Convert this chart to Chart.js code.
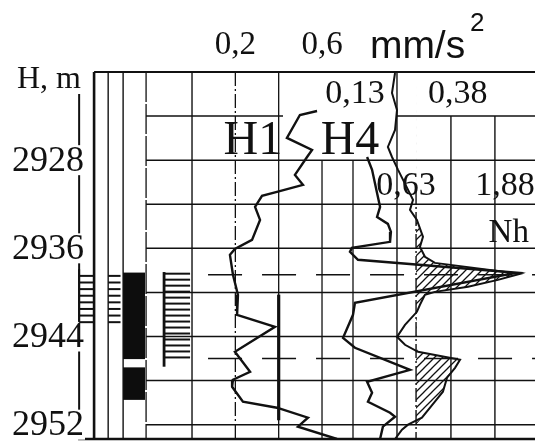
<!DOCTYPE html>
<html><head><meta charset="utf-8">
<script src="https://cdn.jsdelivr.net/npm/chart.js@4.4.1/dist/chart.umd.min.js"></script>
<style>html,body{margin:0;padding:0;background:#fff;}#wrap{position:relative;width:535px;height:441px;}</style>
</head><body><div id="wrap"><canvas id="c"></canvas></div>
<script>
// ---- Data (depth in m, reading in mm/s² on the H1 scale) ----
const h1Depth = [2923.54,2923.90,2925.98,2927.07,2927.71,2929.34,2930.24,2930.88,2931.24,2932.24,2933.42,2935.23,2936.05,2936.59,2938.40,2940.22,2942.03,2943.12,2945.39,2947.20,2947.92,2948.56,2949.92,2950.46,2951.37,2952.18,2953.30];
const h1Value = [0.577,0.498,0.438,0.554,0.531,0.475,0.512,0.392,0.323,0.291,0.314,0.277,0.198,0.175,0.189,0.212,0.208,0.383,0.198,0.268,0.189,0.185,0.235,0.392,0.535,0.489,0.669];
const h4Depth = [2927.71,2928.88,2930.97,2932.24,2933.15,2933.78,2934.51,2935.41,2935.96,2936.32,2937.04,2938.22,2940.94,2942.03,2944.12,2945.02,2947.02,2948.11,2949.10,2949.92,2950.92,2951.28,2952.18,2953.30];
const h4Value = [0.808,0.831,0.854,0.868,0.854,0.904,0.918,0.914,0.738,0.729,0.766,1.500,0.752,0.743,0.697,0.752,1.006,0.808,0.831,0.812,0.914,0.937,0.881,0.868];
const nhDepth = [2920.09,2921.90,2923.45,2925.26,2926.80,2927.71,2928.88,2931.60,2932.51,2933.42,2934.96,2935.87,2936.77,2937.32,2938.31,2938.86,2939.49,2939.95,2940.22,2941.12,2941.76,2942.94,2944.03,2944.75,2945.39,2946.11,2946.84,2947.74,2949.01,2949.92,2951.37,2952.00,2952.46,2953.30];
const nhValue = [0.937,0.923,0.946,0.937,0.904,0.923,0.951,1.020,1.006,1.038,1.066,1.052,1.075,1.121,1.514,1.412,1.274,1.121,1.075,1.052,1.038,0.983,0.946,0.983,1.043,1.237,1.214,1.177,1.158,1.121,1.061,0.997,0.969,0.937];
const nhBase = 1.034;                       // Nh baseline (hatched where Nh exceeds it)
const depthTicks = [2928, 2936, 2944, 2952];
const depthGrid = [2924, 2928, 2932, 2936, 2940, 2944, 2948, 2952];
const markerDepths = [2938.4, 2946.0];      // dashed horizons
const solidTop = [2938.2, 2946.8];           // black lithology column
const solidBottom = [2946.05, 2949.75];
const ladderTop = [2938.5, 2938.5, 2938.3];  // striped lithology columns
const ladderBottom = [2942.7, 2942.7, 2945.9];
const scaleLabels = ['0,2', '0,6'];
const scaleValues = [0.2, 0.6];

// ---- chart ----
const canvas = document.getElementById('c');
const mainCtx = canvas.getContext('2d');
function hatchPattern() {
  const s = 8, c = document.createElement('canvas');
  c.width = s; c.height = s;
  const g = c.getContext('2d');
  g.strokeStyle = '#111'; g.lineWidth = 1.3;
  g.beginPath();
  g.moveTo(-1, s + 1); g.lineTo(s + 1, -1);
  g.moveTo(-s/2 - 1, s/2 + 1); g.lineTo(s/2 + 1, -s/2 - 1);
  g.moveTo(s/2 - 1, 1.5*s + 1); g.lineTo(1.5*s + 1, s/2 - 1);
  g.stroke();
  return mainCtx.createPattern(c, 'repeat');
}
const pts = (d, v) => d.map((y, i) => ({x: v[i], y}));
const SERIF = '"Liberation Serif","Times New Roman",serif';
const SANS = '"Liberation Sans",Arial,sans-serif';
const YMIN = 2920, YMAX = 2953.3, XMIN = -0.457, XMAX = 1.583;

const wellLog = {
  id: 'wellLog',
  beforeDatasetsDraw(chart) {
    const ctx = chart.ctx, xs = chart.scales.x, ys = chart.scales.y;
    const X = v => xs.getPixelForValue(v), Y = d => ys.getPixelForValue(d);
    const line = (x0, y0, x1, y1, w, dash) => {
      ctx.save(); ctx.strokeStyle = '#111'; ctx.lineWidth = w; ctx.setLineDash(dash || []);
      ctx.beginPath(); ctx.moveTo(x0, y0); ctx.lineTo(x1, y1); ctx.stroke(); ctx.restore();
    };
    const vline = (v, d0, d1, w, dash) => line(X(v), Y(d0), X(v), Y(d1), w, dash);
    const hline = (d, v0, v1, w, dash) => line(X(v0), Y(d), X(v1), Y(d), w, dash);
    ctx.save();
    // lithology track columns
    vline(-0.452, YMIN, YMAX, 2.6);
    vline(-0.387, YMIN, YMAX, 1.4);
    vline(-0.318, YMIN, YMAX, 1.4);
    vline(-0.212, YMIN, YMAX, 1.3, [30, 2]);
    // curve track verticals
    vline(0, YMIN, YMAX, 1.4);
    vline(0.2, YMIN, YMAX, 1.3, [14, 3, 2, 3]);
    vline(0.4, YMIN, YMAX, 1.3);
    vline(0.4, 2940.2, 2951.6, 3.2);
    vline(0.6, 2928, YMAX, 1.3);
    vline(0.743, 2928, YMAX, 1.3);
    vline(0.946, YMIN, YMAX, 1.4);
    vline(nhBase, 2930.7, YMAX, 1.4, [14, 3, 2, 3]);
    vline(1.195, 2924, YMAX, 1.4);
    vline(1.398, 2924, YMAX, 1.4);
    // horizontal grid
    depthGrid.forEach(d => {
      if (d === 2924) { hline(d, -0.212, 0.42, 1.5); hline(d, 0.946, XMAX, 1.5); }
      else hline(d, -0.212, XMAX, 1.5);
    });
    hline(YMIN, -0.452, XMAX, 2.2);
    hline(YMAX, -0.526, XMAX, 2.6);
    markerDepths.forEach(d => hline(d, 0.074, XMAX, 1.6, [34, 20]));
    // depth axis line
    vline(-0.521, 2922.0, 2950.8, 2.0);
    // depth labels with knock-out background
    ctx.font = '36px ' + SERIF; ctx.textAlign = 'right'; ctx.textBaseline = 'middle';
    depthTicks.forEach(t => {
      const y = Y(t);
      ctx.fillStyle = '#fff'; ctx.fillRect(8, y - 15, 77, 30);
      ctx.fillStyle = '#111'; ctx.fillText(String(t), 84, y + 1);
    });
    // black column
    ctx.fillStyle = '#0d0d0d';
    solidTop.forEach((t, i) => {
      const x0 = X(-0.318), x1 = X(-0.217);
      ctx.fillRect(x0, Y(t), x1 - x0, Y(solidBottom[i]) - Y(t));
    });
    // striped columns
    const ladderX = [[-0.521, -0.455], [-0.387, -0.330], [-0.129, -0.009]];
    ladderTop.forEach((t, i) => {
      const [v0, v1] = ladderX[i];
      const y0 = Y(t), y1 = Y(ladderBottom[i]);
      const n = Math.round((y1 - y0) / 6.2);
      for (let k = 0; k <= n; k++) {
        const y = y0 + k * (y1 - y0) / n;
        line(X(v0), y, X(v1), y, 2);
      }
      if (i === 0) vline(v0, t - 0.6, ladderBottom[i], 2);
      if (i === 2) vline(v0, t - 0.15, 2946.74, 2.8);
    });
    ctx.restore();
  },
  afterDatasetsDraw(chart) {
    const ctx = chart.ctx, xs = chart.scales.x, ys = chart.scales.y;
    const X = v => xs.getPixelForValue(v), Y = d => ys.getPixelForValue(d);
    const text = (s, v, d, font, align) => {
      ctx.font = font; ctx.textAlign = align || 'center'; ctx.textBaseline = 'alphabetic';
      ctx.fillStyle = '#111'; ctx.fillText(s, X(v), Y(d));
    };
    ctx.save();
    text('H, m', -0.808, 2921.45, '32px ' + SERIF, 'left');
    scaleLabels.forEach((s, i) => text(s, scaleValues[i], 2918.35, '33px ' + SERIF));
    text('mm/s', 0.821, 2918.7, '39px ' + SANS, 'left');
    text('2', 1.283, 2916.3, '26px ' + SANS, 'left');
    text('0,13', 0.752, 2922.8, '34px ' + SERIF);
    text('0,38', 1.227, 2922.8, '34px ' + SERIF);
    text('H1', 0.281, 2927.4, '48px ' + SERIF);
    text('H4', 0.729, 2927.4, '48px ' + SERIF);
    text('0,63', 0.988, 2931.15, '34px ' + SERIF);
    text('1,88', 1.444, 2931.15, '34px ' + SERIF);
    text('Nh', 1.462, 2935.45, '33px ' + SERIF);
    ctx.restore();
  }
};

new Chart(canvas, {
  type: 'line',
  data: {
    datasets: [
      { label: 'H1', data: pts(h1Depth, h1Value), borderColor: '#111', borderWidth: 2.4, pointRadius: 0, fill: false, tension: 0 },
      { label: 'H4', data: pts(h4Depth, h4Value), borderColor: '#111', borderWidth: 2.4, pointRadius: 0, fill: false, tension: 0 },
      { label: 'Nh', data: pts(nhDepth, nhValue), borderColor: '#111', borderWidth: 2.0, pointRadius: 0, fill: false, tension: 0 },
      { label: 'Nh excess', data: pts(nhDepth, nhValue.map(v => Math.max(v, nhBase))), borderColor: 'rgba(0,0,0,0)', borderWidth: 0, pointRadius: 0, tension: 0,
        fill: { value: nhBase }, backgroundColor: hatchPattern() }
    ]
  },
  options: {
    indexAxis: 'y',
    responsive: true, maintainAspectRatio: false, animation: false, events: [],
    layout: { padding: { left: 93, top: 72, right: 0, bottom: 2 } },
    scales: {
      x: { type: 'linear', min: XMIN, max: XMAX, display: false },
      y: { type: 'linear', min: YMIN, max: YMAX, reverse: true, display: false }
    },
    plugins: { legend: { display: false }, tooltip: { enabled: false }, filler: { propagate: false } }
  },
  plugins: [wellLog]
});
</script></body></html>
